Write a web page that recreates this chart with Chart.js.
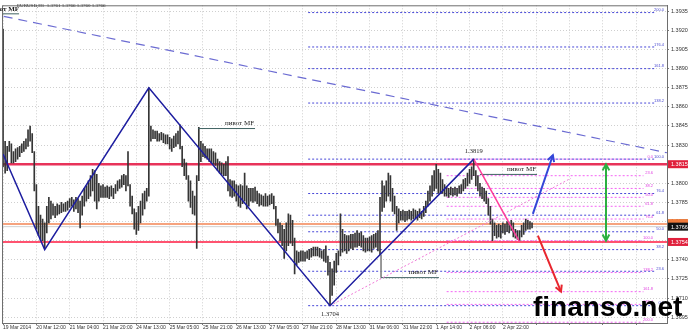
<!DOCTYPE html>
<html>
<head>
<meta charset="utf-8">
<script src="https://cdn.jsdelivr.net/npm/chart.js@4.4.1/dist/chart.umd.min.js"></script>
<style>
  html, body { margin: 0; padding: 0; background: #fff; }
  #wrap { width: 688px; height: 333px; }
</style>
</head>
<body>
<div id="wrap"><canvas id="chart" width="688" height="333"></canvas></div>
<script>
// EURUSD H1 bars (index = hour bar)
const highs = [
  1.3921,1.3833,1.3829,1.3833,1.3831,1.3825,1.3827,1.3828,1.3829,1.3831,
  1.3833,1.3835,1.3842,1.3845,1.3839,1.3825,1.3799,1.3782,1.3775,1.3772,
  1.3769,1.3782,1.3789,1.3786,1.3784,1.3782,1.3784,1.3783,1.3785,1.3784,
  1.3785,1.3786,1.3788,1.3789,1.3787,1.3789,1.3788,1.3786,1.3790,1.3796,
  1.3798,1.3802,1.3806,1.3811,1.3810,1.3807,1.3800,1.3798,1.3799,1.3797,
  1.3798,1.3797,1.3798,1.3796,1.3799,1.3802,1.3803,1.3806,1.3807,1.3806,
  1.3825,1.3799,1.3790,1.3780,1.3777,1.3782,1.3786,1.3792,1.3794,1.3796,
  1.3875,1.3845,1.3842,1.3841,1.3841,1.3839,1.3840,1.3839,1.3838,1.3838,
  1.3836,1.3835,1.3837,1.3839,1.3841,1.3846,1.3829,1.3819,1.3816,1.3806,
  1.3802,1.3794,1.3790,1.3806,1.3844,1.3833,1.3831,1.3829,1.3827,1.3827,
  1.3827,1.3825,1.3824,1.3819,1.3817,1.3816,1.3815,1.3817,1.3821,1.3803,
  1.3802,1.3802,1.3799,1.3798,1.3799,1.3798,1.3808,1.3798,1.3796,1.3796,
  1.3796,1.3797,1.3794,1.3792,1.3791,1.3790,1.3792,1.3790,1.3791,1.3792,
  1.3790,1.3782,1.3772,1.3769,1.3767,1.3764,1.3769,1.3776,1.3775,1.3771,
  1.3757,1.3747,1.3746,1.3747,1.3747,1.3746,1.3747,1.3748,1.3749,1.3750,
  1.3750,1.3750,1.3749,1.3747,1.3748,1.3751,1.3743,1.3738,1.3733,1.3739,
  1.3745,1.3747,1.3776,1.3764,1.3760,1.3759,1.3759,1.3760,1.3760,1.3761,
  1.3763,1.3761,1.3762,1.3759,1.3757,1.3757,1.3758,1.3759,1.3760,1.3761,
  1.3763,1.3789,1.3802,1.3798,1.3802,1.3808,1.3806,1.3796,1.3790,1.3782,
  1.3780,1.3778,1.3779,1.3778,1.3778,1.3779,1.3778,1.3780,1.3779,1.3778,
  1.3780,1.3778,1.3782,1.3786,1.3794,1.3798,1.3806,1.3810,1.3815,1.3811,
  1.3808,1.3803,1.3799,1.3797,1.3796,1.3797,1.3796,1.3797,1.3796,1.3798,
  1.3799,1.3803,1.3804,1.3808,1.3811,1.3813,1.3819,1.3810,1.3806,1.3800,
  1.3797,1.3796,1.3794,1.3788,1.3782,1.3772,1.3769,1.3767,1.3768,1.3767,
  1.3769,1.3768,1.3770,1.3769,1.3771,1.3769,1.3764,1.3763,1.3763,1.3767,
  1.3769,1.3772,1.3771,1.3770,1.3769
];
const lows = [
  1.3813,1.3808,1.3810,1.3825,1.3816,1.3816,1.3817,1.3819,1.3821,1.3824,
  1.3825,1.3827,1.3829,1.3833,1.3824,1.3794,1.3764,1.3759,1.3755,1.3755,
  1.3749,1.3761,1.3769,1.3772,1.3775,1.3773,1.3775,1.3776,1.3777,1.3778,
  1.3778,1.3779,1.3781,1.3782,1.3778,1.3780,1.3777,1.3765,1.3775,1.3782,
  1.3786,1.3788,1.3790,1.3794,1.3786,1.3780,1.3786,1.3789,1.3789,1.3789,
  1.3789,1.3788,1.3790,1.3788,1.3792,1.3794,1.3796,1.3797,1.3799,1.3794,
  1.3798,1.3782,1.3776,1.3764,1.3760,1.3763,1.3769,1.3775,1.3780,1.3786,
  1.3790,1.3833,1.3835,1.3835,1.3833,1.3833,1.3834,1.3832,1.3831,1.3831,
  1.3827,1.3825,1.3828,1.3829,1.3831,1.3827,1.3813,1.3806,1.3803,1.3786,
  1.3781,1.3776,1.3775,1.3749,1.3802,1.3817,1.3821,1.3820,1.3819,1.3817,
  1.3816,1.3815,1.3814,1.3810,1.3808,1.3807,1.3806,1.3806,1.3794,1.3790,
  1.3789,1.3790,1.3786,1.3782,1.3781,1.3784,1.3786,1.3780,1.3782,1.3786,
  1.3785,1.3786,1.3784,1.3782,1.3783,1.3782,1.3782,1.3782,1.3783,1.3784,
  1.3780,1.3767,1.3761,1.3755,1.3751,1.3741,1.3747,1.3751,1.3753,1.3751,
  1.3729,1.3736,1.3738,1.3739,1.3739,1.3739,1.3741,1.3740,1.3742,1.3743,
  1.3743,1.3743,1.3742,1.3741,1.3739,1.3738,1.3728,1.3704,1.3712,1.3720,
  1.3730,1.3736,1.3743,1.3746,1.3747,1.3745,1.3747,1.3749,1.3748,1.3750,
  1.3750,1.3751,1.3750,1.3747,1.3746,1.3747,1.3747,1.3746,1.3749,1.3750,
  1.3747,1.3744,1.3778,1.3781,1.3786,1.3790,1.3786,1.3778,1.3776,1.3763,
  1.3769,1.3771,1.3771,1.3770,1.3771,1.3772,1.3771,1.3772,1.3773,1.3771,
  1.3773,1.3772,1.3774,1.3777,1.3782,1.3786,1.3790,1.3794,1.3796,1.3792,
  1.3792,1.3792,1.3790,1.3790,1.3789,1.3791,1.3790,1.3791,1.3790,1.3792,
  1.3792,1.3794,1.3796,1.3798,1.3800,1.3803,1.3806,1.3798,1.3794,1.3790,
  1.3788,1.3786,1.3784,1.3775,1.3768,1.3755,1.3759,1.3757,1.3758,1.3757,
  1.3761,1.3760,1.3762,1.3761,1.3763,1.3758,1.3757,1.3756,1.3755,1.3758,
  1.3760,1.3763,1.3764,1.3764,1.3765
];

const timeLabels = ['19 Mar 2014', '20 Mar 12:00', '21 Mar 04:00', '21 Mar 20:00', '24 Mar 13:00',
  '25 Mar 05:00', '25 Mar 21:00', '26 Mar 13:00', '27 Mar 05:00', '27 Mar 21:00', '28 Mar 13:00',
  '31 Mar 06:00', '31 Mar 22:00', '1 Apr 14:00', '2 Apr 06:00', '2 Apr 22:00'];
const priceTicks = [1.3935, 1.3920, 1.3905, 1.3890, 1.3875, 1.3860, 1.3845, 1.3830, 1.3815,
  1.3800, 1.3785, 1.3770, 1.3755, 1.3740, 1.3725, 1.3710, 1.3695];

// zigzag swing points
const zigzagIdx = [0, 20, 70, 157, 226];
const zigzagPrice = [1.3823, 1.3748, 1.3875, 1.3704, 1.3819];
const pinkLegIdx = [226, 248];
const pinkLegPrice = [1.3819, 1.3754];

// key levels
const resistance = 1.3815;
const support = 1.3754;
const orangeLevel = 1.3768;
const bidPrice = 1.3766;

// fibo grids
const blueFibLabels = ['200.0', '176.4', '161.8', '138.2', '100.0', '76.4', '61.8', '50.0', '38.2', '23.6', '0.0'];
const blueFibPrice = [1.3934, 1.3907, 1.3890, 1.3863, 1.3819, 1.3792, 1.3775, 1.3762, 1.3748, 1.3731, 1.3704];
const pinkFibLabels = ['0.0', '23.6', '38.2', '50.0', '61.8', '76.4', '100.0', '138.2', '161.8', '176.4', '200.0'];
const pinkFibPrice = [1.3819, 1.3806, 1.3796, 1.3789, 1.3782, 1.3772, 1.3755, 1.3730, 1.3715, 1.3705, 1.3691];

// drawn objects
const trendIdx = [0.3, 318.8];
const trendPrice = [1.3931, 1.3824];
const fibRayIdx = [157, 272.7];
const fibRayPrice = [1.3704, 1.3804];
const upArrowIdx = [254.4, 264];
const upArrowPrice = [1.3776, 1.3822];
const downArrowIdx = [256.8, 267.9];
const downArrowPrice = [1.3759, 1.3715];
const rangeArrowIdx = [289.5, 289.5];
const rangeArrowPrice = [1.3815, 1.3755];

// "пивот MF" labels
const pivotText = 'пивот MF';
const pivotPrice = [1.3933, 1.3843, 1.3807, 1.3726];
const pivotFrom = [-0.5, 93.6, 229, 181.5];
const pivotTo = [7.7, 121, 256.4, 209.3];

const X_MIN = -0.5, X_MAX = 318.8;

function seg(xs, ys) {
    return xs.map((x, i) => ({ x: x, y: ys[i] }));
}

function lineSet(data, color, width, dash, extra) {
    return Object.assign({
        type: 'line', data: data, borderColor: color, borderWidth: width,
        borderDash: dash || [], pointRadius: 0, fill: false, tension: 0
    }, extra || {});
}

const datasets = [];
datasets.push(lineSet(seg(upArrowIdx, upArrowPrice), '#3346d8', 2, [], { arrow: 'end', order: 1 }));
datasets.push(lineSet(seg(downArrowIdx, downArrowPrice), '#e8262e', 2, [], { arrow: 'end', order: 1 }));
datasets.push(lineSet(seg(rangeArrowIdx, rangeArrowPrice), '#2bb040', 2, [], { arrow: 'both', order: 1 }));
datasets.push(lineSet(seg(zigzagIdx, zigzagPrice), '#1e1ea0', 1.5, [], { order: 2 }));
datasets.push(lineSet(seg(pinkLegIdx, pinkLegPrice), '#ff3d9a', 1.5, [], { order: 2 }));
datasets.push(lineSet(seg(fibRayIdx, fibRayPrice), '#f07ad8', 1, [2, 2], { order: 3 }));
datasets.push(lineSet(seg(trendIdx, trendPrice), '#6b6bd2', 1.2, [9, 6], { order: 3 }));
pivotPrice.forEach((p, i) => {
    datasets.push(lineSet(seg([pivotFrom[i], pivotTo[i]], [p, p]), '#3f6262', 1, [], { order: 3 }));
});
datasets.push(lineSet(seg([pivotFrom[3], pivotFrom[3]], [1.3744, pivotPrice[3]]), '#8a8a8a', 1, [], { order: 3 }));

datasets.push({
    type: 'bar',
    data: highs.map((h, i) => ({ x: i, y: [lows[i], h] })),
    backgroundColor: '#353535',
    barThickness: 1,
    order: 5
});

datasets.push(lineSet(seg([X_MIN, X_MAX], [resistance, resistance]), '#e8335a', 2.5, [], { order: 6 }));
datasets.push(lineSet(seg([X_MIN, X_MAX], [support, support]), '#ff1a40', 1.5, [], { order: 6 }));
datasets.push(lineSet(seg([X_MIN, X_MAX], [orangeLevel, orangeLevel]), '#f6a37e', 2, [], { order: 6 }));
datasets.push(lineSet(seg([X_MIN, X_MAX], [bidPrice, bidPrice]), '#d0d0d0', 1, [], { order: 6 }));
blueFibPrice.forEach(p => {
    datasets.push(lineSet(seg([146.5, 313], [p, p]), '#4848d8', 1, [2, 2], { order: 7 }));
});
pinkFibPrice.forEach(p => {
    datasets.push(lineSet(seg([213, 307.5], [p, p]), '#f464f4', 1, [2, 2], { order: 7 }));
});

const sans = '"Liberation Sans", Arial, sans-serif';
const serif = '"Liberation Serif", "Times New Roman", serif';

const overlay = {
    id: 'overlay',
    afterDatasetsDraw(chart) {
        const ctx = chart.ctx;
        chart.data.datasets.forEach((ds, di) => {
            if (!ds.arrow) return;
            const pts = chart.getDatasetMeta(di).data;
            const heads = [[pts[pts.length - 1], pts[pts.length - 2]]];
            if (ds.arrow === 'both') heads.push([pts[0], pts[1]]);
            heads.forEach(([tip, from]) => {
                const ang = Math.atan2(tip.y - from.y, tip.x - from.x);
                ctx.save();
                ctx.strokeStyle = ds.borderColor;
                ctx.lineWidth = ds.borderWidth;
                ctx.beginPath();
                ctx.moveTo(tip.x - 7 * Math.cos(ang - 0.5), tip.y - 7 * Math.sin(ang - 0.5));
                ctx.lineTo(tip.x, tip.y);
                ctx.lineTo(tip.x - 7 * Math.cos(ang + 0.5), tip.y - 7 * Math.sin(ang + 0.5));
                ctx.stroke();
                ctx.restore();
            });
        });
    },
    afterDraw(chart) {
        const ctx = chart.ctx;
        const a = chart.chartArea;
        const xs = chart.scales.x, ys = chart.scales.y;
        ctx.save();
        // frame
        ctx.strokeStyle = '#6e6e6e';
        ctx.lineWidth = 1;
        ctx.strokeRect(a.left + 0.5, a.top + 0.5, a.right - a.left, a.bottom - a.top);

        // fibo labels
        ctx.textBaseline = 'bottom';
        ctx.textAlign = 'right';
        ctx.font = '4px ' + sans;
        ctx.fillStyle = '#4a4ad0';
        blueFibPrice.forEach((p, i) => ctx.fillText(blueFibLabels[i], a.right - 3, ys.getPixelForValue(p) - 0.5));
        ctx.fillStyle = '#e040e0';
        pinkFibPrice.forEach((p, i) => ctx.fillText(pinkFibLabels[i], a.right - 14, ys.getPixelForValue(p) - 0.5));

        // pivot labels
        ctx.fillStyle = '#222';
        ctx.font = '7px ' + serif;
        pivotPrice.forEach((p, i) => {
            if (i === 0) return;
            ctx.fillText(pivotText, xs.getPixelForValue(pivotTo[i]) - 1, ys.getPixelForValue(p) - 1.5);
        });
        ctx.font = 'bold 7px ' + serif;
        ctx.fillText(pivotText, xs.getPixelForValue(pivotTo[0]), ys.getPixelForValue(pivotPrice[0]) - 1);

        // symbol line
        ctx.textAlign = 'left';
        ctx.font = '5px ' + serif;
        ctx.fillStyle = '#333';
        ctx.fillText('EURUSD,H1  1.3761 1.3766 1.3760 1.3766', 17, 8);

        // swing values
        ctx.textAlign = 'center';
        ctx.font = '6.5px ' + serif;
        ctx.fillStyle = '#222';
        ctx.fillText(zigzagPrice[4].toFixed(4), xs.getPixelForValue(zigzagIdx[4]), ys.getPixelForValue(zigzagPrice[4]) - 5);
        ctx.textBaseline = 'top';
        ctx.fillText(zigzagPrice[3].toFixed(4), xs.getPixelForValue(zigzagIdx[3]), ys.getPixelForValue(zigzagPrice[3]) + 5);

        // price boxes on the axis
        ctx.textBaseline = 'middle';
        ctx.textAlign = 'left';
        ctx.font = '5.5px ' + sans;
        const box = (v, bg, fg) => {
            const py = ys.getPixelForValue(v);
            ctx.fillStyle = bg;
            ctx.fillRect(a.right + 1, py - 4, 21, 8);
            ctx.fillStyle = fg;
            ctx.fillText(v.toFixed(4), a.right + 4, py + 0.5);
        };
        ctx.fillStyle = '#f07a3a';
        ctx.fillRect(a.right + 1, ys.getPixelForValue(orangeLevel) - 5, 21, 10);
        box(bidPrice, '#111', '#fff');
        box(resistance, '#e0203c', '#fff');
        box(support, '#e0203c', '#fff');

        // watermark
        ctx.textBaseline = 'alphabetic';
        ctx.font = 'bold 28px ' + sans;
        ctx.fillStyle = '#000';
        ctx.fillText('finanso.net', 533, 316);
        ctx.restore();
    }
};

new Chart(document.getElementById('chart'), {
    type: 'bar',
    data: { datasets: datasets },
    plugins: [overlay],
    options: {
        responsive: false,
        animation: false,
        events: [],
        layout: { padding: { left: 2, top: 3, right: 0, bottom: 0 } },
        plugins: { legend: { display: false }, tooltip: { enabled: false } },
        scales: {
            x: {
                type: 'linear',
                min: X_MIN,
                max: X_MAX,
                offset: false,
                afterBuildTicks: s => {
                    const t = [];
                    for (let v = 0; v <= 312; v += 16) t.push({ value: v });
                    s.ticks = t;
                },
                afterFit: s => { s.height = 10; },
                grid: { color: '#cfcfcf', tickColor: '#777', tickLength: 2, offset: false },
                border: { color: '#6e6e6e', dash: [1, 2] },
                ticks: {
                    autoSkip: false, maxRotation: 0, align: 'start', padding: 0,
                    color: '#333', font: { size: 5, family: sans },
                    callback: v => timeLabels[v / 16] || ''
                }
            },
            y: {
                position: 'right',
                min: 1.36904,
                max: 1.39397,
                afterBuildTicks: s => { s.ticks = priceTicks.map(v => ({ value: v })); },
                afterFit: s => { s.width = 21; },
                grid: { color: '#cfcfcf', tickColor: '#777', tickLength: 2 },
                border: { color: '#6e6e6e', dash: [1, 2] },
                ticks: {
                    padding: 2, color: '#333', font: { size: 5.5, family: sans },
                    callback: v => v.toFixed(4)
                }
            }
        }
    }
});
</script>
</body>
</html>
